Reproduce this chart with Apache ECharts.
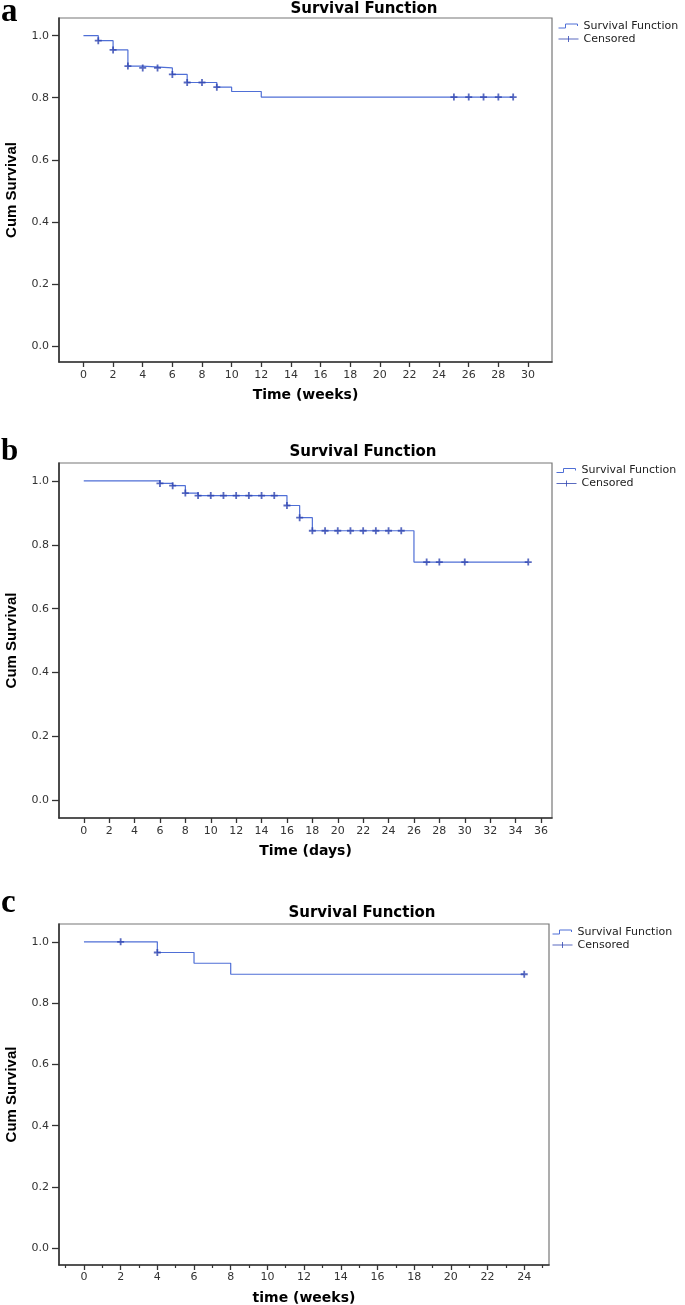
<!DOCTYPE html>
<html><head><meta charset="utf-8">
<script src="https://cdn.jsdelivr.net/npm/echarts@6/dist/echarts.min.js"></script>
<style>html,body{margin:0;padding:0;background:#fff}#c{width:685px;height:1305px}</style>
</head><body><div id="c"></div>
<script>
// ---------- Panel a (weeks) ----------
const aStepTime = [0, 1, 2, 3, 4, 6, 7, 9, 10, 12, 29];
const aStepSurv = [1.0, 0.984, 0.954, 0.902, 0.896, 0.875, 0.849, 0.834, 0.820, 0.802, 0.802];
const aCensTime = [1, 2, 3, 4, 5, 6, 7, 8, 9, 25, 26, 27, 28, 29];
const aCensSurv = [0.984, 0.954, 0.902, 0.896, 0.896, 0.875, 0.849, 0.849, 0.834, 0.802, 0.802, 0.802, 0.802, 0.802];
const aXTicks = [0, 2, 4, 6, 8, 10, 12, 14, 16, 18, 20, 22, 24, 26, 28, 30];

// ---------- Panel b (days) ----------
const bStepTime = [0, 6, 7, 8, 9, 16, 17, 18, 26, 35];
const bStepSurv = [1.0, 0.992, 0.985, 0.962, 0.954, 0.923, 0.885, 0.844, 0.746, 0.746];
const bCensTime = [6, 7, 8, 9, 10, 11, 12, 13, 14, 15, 16, 17, 18, 19, 20, 21, 22, 23, 24, 25, 27, 28, 30, 35];
const bCensSurv = [0.992, 0.985, 0.962, 0.954, 0.954, 0.954, 0.954, 0.954, 0.954, 0.954, 0.923, 0.885, 0.844, 0.844, 0.844, 0.844, 0.844, 0.844, 0.844, 0.844, 0.746, 0.746, 0.746, 0.746];
const bXTicks = [0, 2, 4, 6, 8, 10, 12, 14, 16, 18, 20, 22, 24, 26, 28, 30, 32, 34, 36];

// ---------- Panel c (weeks) ----------
const cStepTime = [0, 4, 6, 8, 24];
const cStepSurv = [1.0, 0.965, 0.930, 0.894, 0.894];
const cCensTime = [2, 4, 24];
const cCensSurv = [1.0, 0.965, 0.894];
const cXTicks = [0, 2, 4, 6, 8, 10, 12, 14, 16, 18, 20, 22, 24];
const cXMinor = [-1, 1, 3, 5, 7, 9, 11, 13, 15, 17, 19, 21, 23, 25];

const yTicks = [0, 0.2, 0.4, 0.6, 0.8, 1.0];
const panelLetters = ['a', 'b', 'c'];
const panelTitle = 'Survival Function';
const xNames = ['Time (weeks)', 'Time (days)', 'time (weeks)'];
const yName = 'Cum Survival';
const legendNames = ['Survival Function', 'Censored'];

// ---------- styling / layout ----------
const lineColor = '#4f6fd6';
const crossColor = '#2f45b0';
const crossPath = 'path://M5,0 L5,10 M0,5 L10,5';
const stepIcon = 'path://M0,6 L7,6 L7,2 L19,2 L19,4 M0,0 M20,8';
const censIcon = 'path://M0,4 L20,4 M10,1 L10,7 M0,0 M20,8';

const panels = [
  { grid: {left: 59, top: 18, width: 493, height: 344}, x: [-1.65, 31.62], y: [-0.052, 1.057],
    step: [aStepTime, aStepSurv], cens: [aCensTime, aCensSurv], ticks: aXTicks,
    title: [364, 9], letter: [1, 12, 33], legend: [553, 15.5], labelMargin: 8 },
  { grid: {left: 59, top: 463, width: 493, height: 355}, x: [-1.95, 36.87], y: [-0.055, 1.056],
    step: [bStepTime, bStepSurv], cens: [bCensTime, bCensSurv], ticks: bXTicks,
    title: [363, 452], letter: [1, 452, 31], legend: [551, 460], labelMargin: 8 },
  { grid: {left: 59, top: 924, width: 490, height: 341}, x: [-1.36, 25.35], y: [-0.0545, 1.058],
    step: [cStepTime, cStepSurv], cens: [cCensTime, cCensSurv], ticks: cXTicks,
    title: [362, 913.5], letter: [1, 903, 33], legend: [547, 921.5], labelMargin: 7 }
];

const tickFont = {fontFamily: 'DejaVu Sans', fontSize: 11, color: '#333'};
const option = {
  animation: false,
  backgroundColor: '#fff',
  grid: [], xAxis: [], yAxis: [], series: [], legend: [], graphic: []
};

panels.forEach((p, i) => {
  option.grid.push(Object.assign({show: true, borderColor: '#777', borderWidth: 1.2, backgroundColor: 'transparent',
    containLabel: false, outerBoundsMode: 'none'}, p.grid));
  option.xAxis.push({
    type: 'value', gridIndex: i, min: p.x[0], max: p.x[1], position: 'bottom',
    name: xNames[i], nameLocation: 'middle', nameGap: 26,
    nameTextStyle: {fontFamily: 'DejaVu Sans', fontWeight: 'bold', fontSize: 14, color: '#000'},
    axisLine: {onZero: false, lineStyle: {color: '#333', width: 1.6}},
    axisTick: {show: true, length: 5, lineStyle: {color: '#333', width: 1.3}, customValues: p.ticks},
    axisLabel: Object.assign({margin: p.labelMargin, customValues: p.ticks}, tickFont),
    splitLine: {show: false}
  });
  option.yAxis.push({
    type: 'value', gridIndex: i, min: p.y[0], max: p.y[1],
    name: yName, nameLocation: 'middle', nameGap: 40,
    nameTextStyle: {fontFamily: "'Liberation Sans Narrow', 'Arial Narrow', 'Liberation Sans', sans-serif", fontWeight: 'bold', fontSize: 15, color: '#000'},
    axisLine: {onZero: false, lineStyle: {color: '#333', width: 1.6}},
    axisTick: {show: true, length: 7, lineStyle: {color: '#333', width: 1.3}, customValues: yTicks},
    axisLabel: Object.assign({margin: 10, customValues: yTicks, formatter: v => v.toFixed(1)}, tickFont),
    splitLine: {show: false}
  });
  option.series.push({
    name: legendNames[0], type: 'line', step: 'end', xAxisIndex: i, yAxisIndex: i,
    data: p.step[0].map((t, k) => [t, p.step[1][k]]),
    showSymbol: false, symbol: 'none',
    lineStyle: {color: lineColor, width: 1.2}, itemStyle: {color: lineColor}, z: 3
  });
  option.series.push({
    name: legendNames[1], type: 'scatter', xAxisIndex: i, yAxisIndex: i,
    data: p.cens[0].map((t, k) => [t, p.cens[1][k]]),
    symbol: crossPath, symbolSize: 7,
    itemStyle: {color: 'transparent', borderColor: crossColor, borderWidth: 1.8}, z: 4
  });
  option.legend.push({
    left: p.legend[0], top: p.legend[1], orient: 'vertical', selectedMode: false,
    itemWidth: 20, itemHeight: 8, itemGap: 2, padding: 5,
    textStyle: {fontFamily: 'DejaVu Sans', fontSize: 11, color: '#222', lineHeight: 9},
    data: [
      {name: legendNames[0], icon: stepIcon, itemStyle: {color: 'transparent', borderColor: lineColor, borderWidth: 1}},
      {name: legendNames[1], icon: censIcon, itemStyle: {color: 'transparent', borderColor: crossColor, borderWidth: 1}}
    ]
  });
  option.graphic.push({
    type: 'text', x: p.title[0], y: p.title[1],
    style: {text: panelTitle, textAlign: 'center', textVerticalAlign: 'middle',
      font: 'bold 15px "DejaVu Sans"', fill: '#000'}
  });
  option.graphic.push({
    type: 'text', x: p.letter[0], y: p.letter[1],
    style: {text: panelLetters[i], textAlign: 'left', textVerticalAlign: 'middle',
      font: 'bold ' + p.letter[2] + 'px "Liberation Serif"', fill: '#000'}
  });
});

// minor ticks on panel c
option.xAxis.push({
  type: 'value', gridIndex: 2, min: panels[2].x[0], max: panels[2].x[1], position: 'bottom',
  axisLine: {show: false, onZero: false},
  axisTick: {show: true, length: 3, lineStyle: {color: '#333', width: 1.2}, customValues: cXMinor},
  axisLabel: {show: false}, splitLine: {show: false}
});

const chart = echarts.init(document.getElementById('c'));
chart.setOption(option);
</script>
</body></html>
